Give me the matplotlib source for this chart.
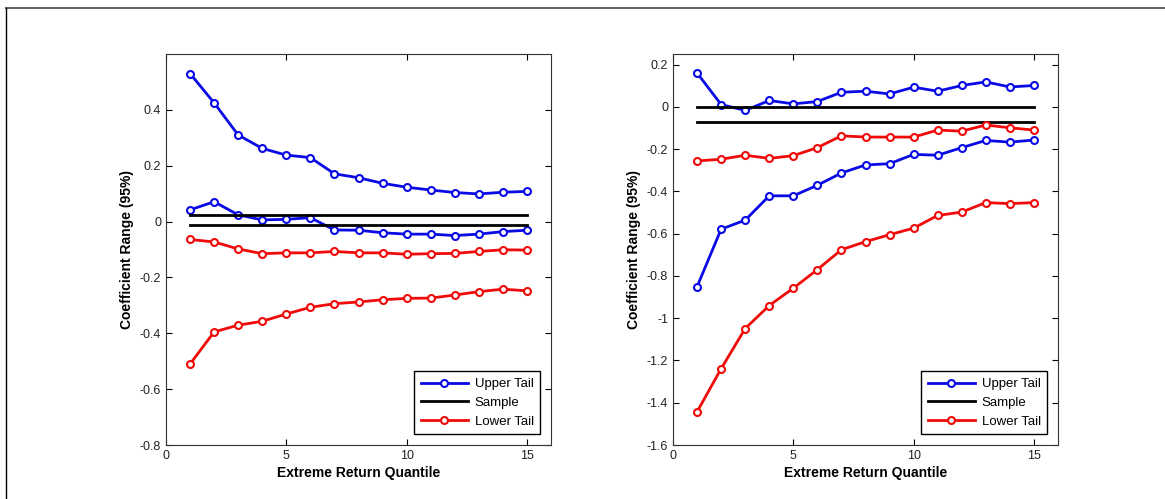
import matplotlib
matplotlib.use("Agg")
import matplotlib.pyplot as plt
from matplotlib.lines import Line2D

plt.rcParams['font.family'] = ['Liberation Sans', 'DejaVu Sans']

quantile = list(range(1, 16))

# left panel
left_upper_hi = [0.530, 0.425, 0.310, 0.262, 0.238, 0.229, 0.171, 0.157, 0.137,
                 0.123, 0.113, 0.104, 0.099, 0.105, 0.108]
left_upper_lo = [0.042, 0.071, 0.024, 0.006, 0.008, 0.014, -0.030, -0.031, -0.040,
                 -0.045, -0.045, -0.050, -0.045, -0.036, -0.031]
left_sample = [0.025, -0.012]
left_lower_hi = [-0.064, -0.073, -0.098, -0.115, -0.112, -0.112, -0.107, -0.112, -0.112,
                 -0.117, -0.115, -0.114, -0.107, -0.101, -0.102]
left_lower_lo = [-0.510, -0.395, -0.371, -0.357, -0.331, -0.307, -0.294, -0.288, -0.280,
                 -0.275, -0.274, -0.263, -0.251, -0.242, -0.248]

# right panel
right_upper_hi = [0.160, 0.011, -0.017, 0.030, 0.014, 0.025, 0.069, 0.074, 0.061,
                  0.093, 0.074, 0.101, 0.118, 0.094, 0.101]
right_upper_lo = [-0.851, -0.579, -0.536, -0.421, -0.421, -0.371, -0.313, -0.275, -0.269,
                  -0.225, -0.229, -0.193, -0.159, -0.167, -0.157]
right_sample = [0.0, -0.074]
right_lower_hi = [-0.256, -0.248, -0.229, -0.244, -0.231, -0.193, -0.137, -0.143, -0.143,
                  -0.143, -0.110, -0.115, -0.086, -0.099, -0.110]
right_lower_lo = [-1.443, -1.239, -1.049, -0.940, -0.858, -0.770, -0.676, -0.638, -0.605,
                  -0.574, -0.514, -0.498, -0.453, -0.458, -0.453]

fig = plt.figure(figsize=(11.65, 4.99), dpi=100)

# outer frame
fig.add_artist(Line2D([6 / 1165, 1], [1 - 8 / 499, 1 - 8 / 499], color='#666666', lw=1.5))
fig.add_artist(Line2D([6 / 1165, 6 / 1165], [0, 1 - 8 / 499], color='black', lw=1.0))


def panel(ax, up_hi, up_lo, sample, lo_hi, lo_lo, ylim, yticks, yticklabels):
    mk = dict(marker='o', markersize=5, markerfacecolor='white', markeredgewidth=1.5, lw=2)
    ax.plot(quantile, up_hi, color='#0a0ae6', label='Upper Tail', **mk)
    ax.plot(quantile, up_lo, color='#0a0ae6', **mk)
    ax.plot([quantile[0], quantile[-1]], [sample[0], sample[0]], color='black', lw=2, label='Sample')
    ax.plot([quantile[0], quantile[-1]], [sample[1], sample[1]], color='black', lw=2)
    ax.plot(quantile, lo_hi, color='#f00a0a', label='Lower Tail', **mk)
    ax.plot(quantile, lo_lo, color='#f00a0a', **mk)
    ax.set_xlim(0, 16)
    ax.set_ylim(*ylim)
    ax.set_xticks([0, 5, 10, 15])
    ax.set_yticks(yticks)
    ax.set_yticklabels(yticklabels)
    ax.tick_params(direction='in', top=True, right=True, labelsize=9, length=4, width=0.8,
                   labelcolor='#222222')
    for s in ax.spines.values():
        s.set_linewidth(0.8)
        s.set_color('#333333')
    ax.set_xlabel('Extreme Return Quantile', fontsize=10, fontweight='bold', labelpad=3)
    ax.set_ylabel('Coefficient Range (95%)', fontsize=10, fontweight='bold', labelpad=4)
    leg = ax.legend(loc='lower right', fontsize=9.5, fancybox=False, framealpha=1,
                    edgecolor='black', borderaxespad=0.8, handlelength=3.6,
                    labelspacing=0.5, borderpad=0.5, handletextpad=0.5)
    leg.get_frame().set_linewidth(1.0)


ax1 = fig.add_axes([166 / 1165, 54 / 499, 385 / 1165, 391 / 499])
yt1 = [-0.8, -0.6, -0.4, -0.2, 0, 0.2, 0.4]
panel(ax1, left_upper_hi, left_upper_lo, left_sample, left_lower_hi, left_lower_lo,
      (-0.8, 0.6), yt1, ['-0.8', '-0.6', '-0.4', '-0.2', '0', '0.2', '0.4'])

ax2 = fig.add_axes([673 / 1165, 54 / 499, 385 / 1165, 391 / 499])
yt2 = [-1.6, -1.4, -1.2, -1.0, -0.8, -0.6, -0.4, -0.2, 0, 0.2]
panel(ax2, right_upper_hi, right_upper_lo, right_sample, right_lower_hi, right_lower_lo,
      (-1.6, 0.25), yt2, ['-1.6', '-1.4', '-1.2', '-1', '-0.8', '-0.6', '-0.4', '-0.2', '0', '0.2'])

fig.savefig('out.png', dpi=100)
